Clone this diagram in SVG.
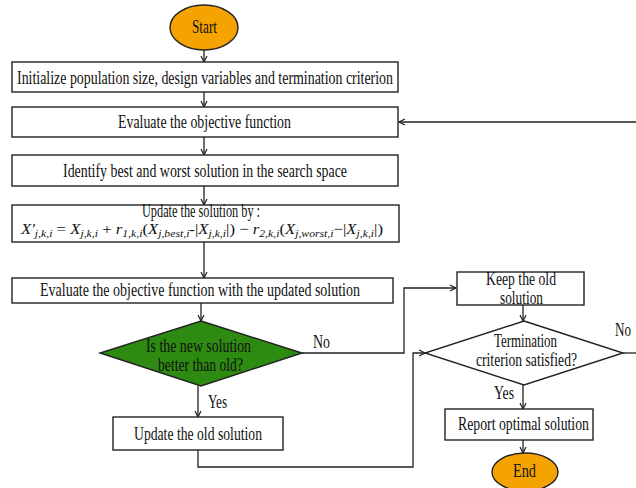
<svg xmlns="http://www.w3.org/2000/svg" width="636" height="488" viewBox="0 0 636 488">
<defs>
<marker id="arr" markerWidth="8" markerHeight="8" refX="7" refY="4" orient="auto" markerUnits="userSpaceOnUse">
<path d="M1,1 L7,4 L1,7" fill="none" stroke="#222" stroke-width="1.2"/>
</marker>
<style>
.box{fill:#fff;stroke:#222;stroke-width:1.4}
.term{fill:#F5A300;stroke:#222;stroke-width:1.4}
.dec{fill:#2E8B12;stroke:#222;stroke-width:1.4}
.dec2{fill:#fff;stroke:#222;stroke-width:1.4}
.t{font-family:"Liberation Serif","Times New Roman",serif;font-size:18px;fill:#111}
.m{font-family:"Liberation Serif","Times New Roman",serif;font-size:15px;fill:#111}
.i{font-style:italic}
.s{font-size:10.5px;font-style:italic}
.c{fill:none;stroke:#222;stroke-width:1.3}
</style>
</defs>
<rect width="636" height="488" fill="#fff"/>
<g id="connectors">
<line class="c" x1="204" y1="50" x2="204" y2="62" marker-end="url(#arr)"/>
<line class="c" x1="204" y1="92" x2="204" y2="107" marker-end="url(#arr)"/>
<line class="c" x1="636" y1="122" x2="399" y2="122" marker-end="url(#arr)"/>
<line class="c" x1="204" y1="137" x2="204" y2="155" marker-end="url(#arr)"/>
<line class="c" x1="204" y1="186" x2="204" y2="205" marker-end="url(#arr)"/>
<line class="c" x1="204" y1="242" x2="204" y2="278" marker-end="url(#arr)"/>
<line class="c" x1="201" y1="303" x2="201" y2="321" marker-end="url(#arr)"/>
<polyline class="c" points="302,353 404,353 404,288 456,288" marker-end="url(#arr)"/>
<line class="c" x1="198" y1="386" x2="198" y2="417" marker-end="url(#arr)"/>
<polyline class="c" points="198,450 198,467 413,467 413,353 425,353" marker-end="url(#arr)"/>
<line class="c" x1="523" y1="305" x2="523" y2="321" marker-end="url(#arr)"/>
<line class="c" x1="623" y1="353" x2="636" y2="353"/>
<line class="c" x1="523" y1="385" x2="523" y2="409" marker-end="url(#arr)"/>
<line class="c" x1="523" y1="440" x2="523" y2="453" marker-end="url(#arr)"/>
<text class="t" x="313" y="348" textLength="17" lengthAdjust="spacingAndGlyphs">No</text>
<text class="t" x="208" y="408" textLength="19" lengthAdjust="spacingAndGlyphs">Yes</text>
<text class="t" x="615" y="336" textLength="16" lengthAdjust="spacingAndGlyphs">No</text>
<text class="t" x="494" y="399" textLength="20" lengthAdjust="spacingAndGlyphs">Yes</text>
</g>
<g id="start">
<ellipse class="term" cx="204" cy="27.5" rx="34" ry="22.5"/>
<text class="t" x="192" y="33" textLength="25" lengthAdjust="spacingAndGlyphs">Start</text>
</g>
<g id="init">
<rect class="box" x="12" y="62" width="386" height="30"/>
<text class="t" x="17" y="84" textLength="376" lengthAdjust="spacingAndGlyphs">Initialize population size, design variables and termination criterion</text>
</g>
<g id="evaluate">
<rect class="box" x="12" y="107" width="386" height="30"/>
<text class="t" x="118" y="128" textLength="173" lengthAdjust="spacingAndGlyphs">Evaluate the objective function</text>
</g>
<g id="identify">
<rect class="box" x="12" y="155" width="386" height="31"/>
<text class="t" x="63" y="177" textLength="284" lengthAdjust="spacingAndGlyphs">Identify best and worst solution in the search space</text>
</g>
<g id="update">
<rect class="box" x="12" y="205" width="387" height="37"/>
<text class="t" x="142" y="217" font-size="15" textLength="118" lengthAdjust="spacingAndGlyphs">Update the solution by :</text>
<text class="m" x="21" y="233.5" textLength="362" lengthAdjust="spacingAndGlyphs"><tspan class="i">X′</tspan><tspan class="s" dy="3.5">j,k,i</tspan><tspan dy="-3.5"> = </tspan><tspan class="i">X</tspan><tspan class="s" dy="3.5">j,k,i</tspan><tspan dy="-3.5"> + </tspan><tspan class="i">r</tspan><tspan class="s" dy="3.5">1,k,i</tspan><tspan dy="-3.5">(</tspan><tspan class="i">X</tspan><tspan class="s" dy="3.5">j,best,i</tspan><tspan dy="-3.5">-|</tspan><tspan class="i">X</tspan><tspan class="s" dy="3.5">j,k,i</tspan><tspan dy="-3.5">|) − </tspan><tspan class="i">r</tspan><tspan class="s" dy="3.5">2,k,i</tspan><tspan dy="-3.5">(</tspan><tspan class="i">X</tspan><tspan class="s" dy="3.5">j,worst,i</tspan><tspan dy="-3.5">−|</tspan><tspan class="i">X</tspan><tspan class="s" dy="3.5">j,k,i</tspan><tspan dy="-3.5">|)</tspan></text>
</g>
<g id="evaluate2">
<rect class="box" x="12" y="278" width="381" height="25"/>
<text class="t" x="40" y="296" textLength="320" lengthAdjust="spacingAndGlyphs">Evaluate the objective function with the updated solution</text>
</g>
<g id="better">
<polygon class="dec" points="201,321 302,353 201,386 100,353"/>
<text class="t" x="146" y="352" textLength="105" lengthAdjust="spacingAndGlyphs">Is the new solution</text>
<text class="t" x="158" y="371" textLength="85" lengthAdjust="spacingAndGlyphs">better than old?</text>
</g>
<g id="updateold">
<rect class="box" x="113" y="417" width="170" height="33"/>
<text class="t" x="134" y="440" textLength="128" lengthAdjust="spacingAndGlyphs">Update the old solution</text>
</g>
<g id="keep">
<rect class="box" x="457" y="272" width="127" height="33"/>
<text class="t" x="486" y="285" textLength="70" lengthAdjust="spacingAndGlyphs">Keep the old</text>
<text class="t" x="500" y="304" textLength="43" lengthAdjust="spacingAndGlyphs">solution</text>
</g>
<g id="termination">
<polygon class="dec2" points="524,321 623,353 524,385 425,353"/>
<text class="t" x="494" y="347" textLength="63" lengthAdjust="spacingAndGlyphs">Termination</text>
<text class="t" x="476" y="366" textLength="101" lengthAdjust="spacingAndGlyphs">criterion satisfied?</text>
</g>
<g id="report">
<rect class="box" x="445" y="409" width="148" height="31"/>
<text class="t" x="458" y="430" textLength="131" lengthAdjust="spacingAndGlyphs">Report optimal solution</text>
</g>
<g id="end">
<ellipse class="term" cx="525" cy="472" rx="33" ry="19"/>
<text class="t" x="513" y="477" textLength="23" lengthAdjust="spacingAndGlyphs">End</text>
</g>
</svg>
